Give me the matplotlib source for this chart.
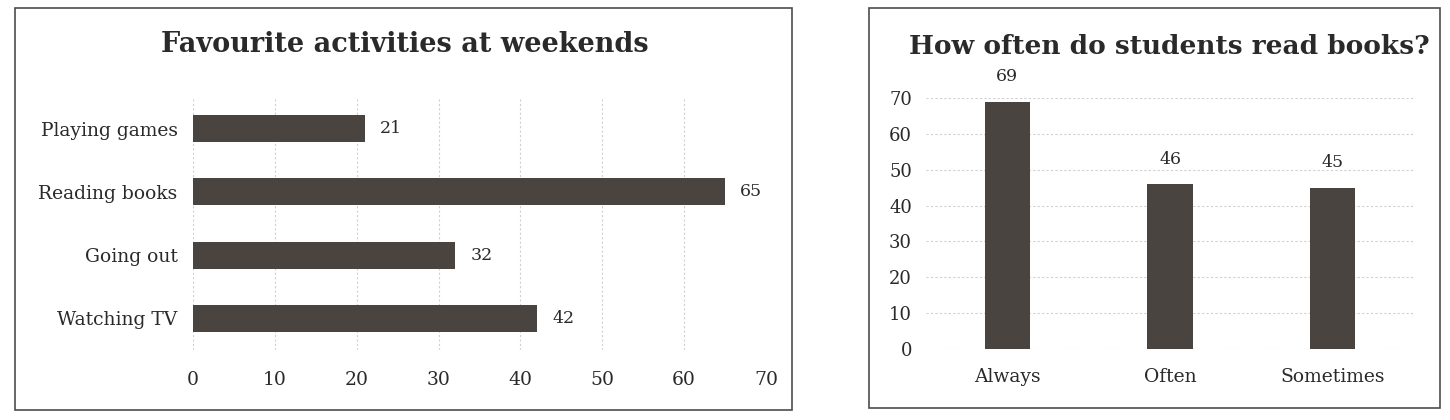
import matplotlib.pyplot as plt
from matplotlib.patches import Rectangle

activities = ["Watching TV", "Going out", "Reading books", "Playing games"]
activity_counts = [42, 32, 65, 21]
activity_ticks = [0, 10, 20, 30, 40, 50, 60, 70]

frequency = ["Always", "Often", "Sometimes"]
frequency_counts = [69, 46, 45]
frequency_ticks = [0, 10, 20, 30, 40, 50, 60, 70]

bar_color = "#4a4441"
grid_color = "#d0d0d0"
text_color = "#2a2a2a"

plt.rcParams["font.family"] = ["DejaVu Serif"]
plt.rcParams["text.color"] = text_color
plt.rcParams["xtick.color"] = text_color
plt.rcParams["ytick.color"] = text_color

W, H = 1450, 420
fig = plt.figure(figsize=(W / 100, H / 100), dpi=100)


def box(l, t, r, b):
    # pixel box -> figure fraction
    return [l / W, 1 - b / H, (r - l) / W, (b - t) / H]


# panel frames
for l, t, r, b in [(15, 8, 792, 410), (869, 8, 1440, 408)]:
    fig.add_artist(Rectangle((l / W, 1 - b / H), (r - l) / W, (b - t) / H,
                             transform=fig.transFigure, fill=False,
                             edgecolor="#4d4d4d", linewidth=1.2))

# left: horizontal bars
ax1 = fig.add_axes(box(193, 97, 766, 350))
ax1.barh(range(len(activities)), activity_counts, height=0.43, color=bar_color, zorder=2)
ax1.set_xlim(0, 70)
ax1.set_ylim(-0.5, 3.5)
ax1.set_xticks(activity_ticks)
ax1.set_yticks(range(len(activities)), activities)
ax1.tick_params(axis="x", length=0, pad=15, labelsize=13.5)
ax1.tick_params(axis="y", length=0, pad=11, labelsize=13.5)
for s in ax1.spines.values():
    s.set_visible(False)
ax1.grid(axis="x", color=grid_color, linestyle=(0, (2, 2)), linewidth=0.8)
ax1.set_axisbelow(True)
for i, v in enumerate(activity_counts):
    ax1.annotate(str(v), (v, i), xytext=(11, 0), textcoords="offset points",
                 va="center", ha="left", fontsize=12.5)
fig.text(405 / W, 1 - 45 / H, "Favourite activities at weekends",
         ha="center", va="center", fontsize=19.5, fontweight="bold")

# right: vertical bars
ax2 = fig.add_axes(box(926, 98, 1414, 349))
ax2.bar(range(len(frequency)), frequency_counts, width=0.28, color=bar_color, zorder=2)
ax2.set_xlim(-0.5, 2.5)
ax2.set_ylim(0, 70)
ax2.set_yticks(frequency_ticks)
ax2.set_xticks(range(len(frequency)), frequency)
ax2.tick_params(axis="x", length=0, pad=14, labelsize=13.5)
ax2.tick_params(axis="y", length=0, pad=10, labelsize=13)
for s in ax2.spines.values():
    s.set_visible(False)
ax2.grid(axis="y", color=grid_color, linestyle=(0, (2, 2)), linewidth=0.8)
ax2.set_axisbelow(True)
for i, v in enumerate(frequency_counts):
    ax2.annotate(str(v), (i, v), xytext=(0, 18), textcoords="offset points",
                 va="center", ha="center", fontsize=12.5, annotation_clip=False)
fig.text(1169 / W, 1 - 47 / H, "How often do students read books?",
         ha="center", va="center", fontsize=19, fontweight="bold")

fig.savefig("out.png", dpi=100)
